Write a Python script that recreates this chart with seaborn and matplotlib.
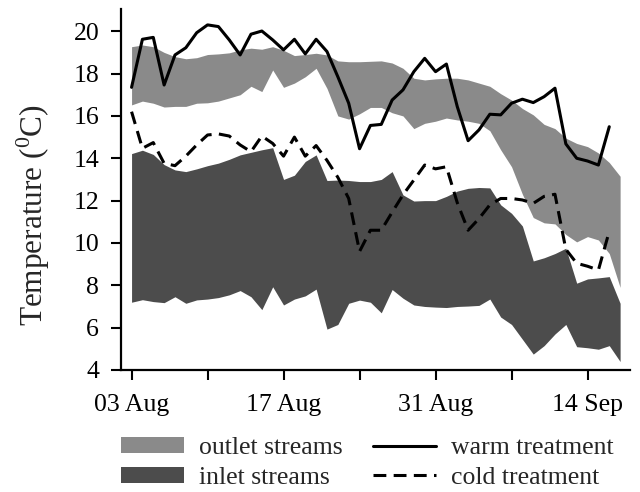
import numpy as np
import pandas as pd
import matplotlib
matplotlib.use("Agg")
import matplotlib.pyplot as plt
from matplotlib.patches import Patch
from matplotlib.lines import Line2D
import seaborn as sns

# ---------------- data ----------------
start_date = "2001-08-03"

outlet_upper = [19.27, 19.35, 19.27, 19.0, 18.8, 18.7, 18.75, 18.9, 18.93, 18.98,
                19.12, 19.2, 19.15, 19.27, 19.1, 18.85, 18.9, 18.96, 18.88, 18.6,
                18.56, 18.56, 18.58, 18.6, 18.5, 18.25, 17.78, 17.7, 17.75, 17.78,
                17.78, 17.7, 17.55, 17.4, 17.05, 16.75, 16.35, 16.05, 15.6, 15.4,
                14.95, 14.7, 14.55, 14.25, 13.8, 13.15]
outlet_lower = [16.52, 16.7, 16.6, 16.42, 16.45, 16.45, 16.6, 16.62, 16.7, 16.85,
                17.0, 17.4, 17.15, 18.17, 17.35, 17.55, 17.85, 18.25, 17.3, 16.0,
                15.85, 16.1, 16.4, 16.4, 16.15, 16.0, 15.4, 15.65, 15.75, 15.9,
                15.81, 15.75, 15.65, 15.3, 14.4, 13.6, 12.3, 11.2, 10.95, 10.9,
                10.4, 10.05, 10.3, 10.14, 9.5, 7.9]
inlet_upper = [14.22, 14.38, 14.18, 13.7, 13.45, 13.37, 13.5, 13.65, 13.77, 13.95,
               14.16, 14.28, 14.4, 14.5, 13.0, 13.2, 13.85, 14.16, 12.95, 12.97,
               12.95, 12.9, 12.9, 13.0, 13.37, 12.27, 11.98, 12.0, 12.0, 12.2,
               12.45, 12.58, 12.62, 12.6, 11.8, 11.4, 10.8, 9.15, 9.3, 9.5,
               9.75, 8.1, 8.3, 8.35, 8.41, 7.15]
inlet_lower = [7.2, 7.32, 7.23, 7.18, 7.46, 7.15, 7.31, 7.35, 7.42, 7.55,
               7.75, 7.46, 6.85, 7.93, 7.07, 7.35, 7.5, 7.82, 5.93, 6.15,
               7.15, 7.3, 7.2, 6.7, 7.8, 7.39, 7.07, 7.0, 6.97, 6.95,
               7.0, 7.02, 7.05, 7.35, 6.5, 6.15, 5.45, 4.75, 5.15, 5.7,
               6.15, 5.1, 5.05, 4.98, 5.15, 4.4]
warm_treatment = [17.35, 19.62, 19.71, 17.46, 18.88, 19.22, 19.93, 20.30, 20.22, 19.59,
                  18.88, 19.86, 20.01, 19.59, 19.12, 19.62, 18.93, 19.62, 19.04, 17.85,
                  16.6, 14.45, 15.55, 15.6, 16.75, 17.23, 18.09, 18.72, 18.09, 18.45,
                  16.44, 14.83, 15.34, 16.08, 16.05, 16.6, 16.79, 16.63, 16.91, 17.31,
                  14.68, 14.0, 13.87, 13.68, 15.49]
cold_treatment = [16.2, 14.47, 14.74, 13.76, 13.65, 14.1, 14.63, 15.1, 15.15, 15.05,
                  14.63, 14.31, 15.05, 14.7, 14.1, 15.0, 14.1, 14.6, 13.9, 13.1,
                  12.1, 9.6, 10.6, 10.6, 11.45, 12.27, 12.97, 13.68, 13.5, 13.6,
                  11.9, 10.6, 11.15, 11.8, 12.1, 12.1, 12.03, 11.87, 12.2, 12.3,
                  9.7, 9.04, 8.9, 8.72, 10.55]

band_labels = ["outlet streams", "inlet streams"]
line_labels = ["warm treatment", "cold treatment"]
tick_labels = ["03 Aug", "", "17 Aug", "", "31 Aug", "", "14 Sep"]
y_ticks = [4, 6, 8, 10, 12, 14, 16, 18, 20]

# ---------------- styling ----------------
sns.set_style("ticks")
plt.rcParams["font.family"] = ["Liberation Serif", "DejaVu Serif"]
plt.rcParams["mathtext.fontset"] = "custom"
plt.rcParams["mathtext.rm"] = "Liberation Serif"

outlet_color = "#8a8a8a"
inlet_color = "#4c4c4c"
lw = 2.2
cold_dash = (4.2, 2.4)
fs = 18.5

band_dates = pd.date_range(start_date, periods=len(outlet_upper), freq="D")
line_dates = pd.date_range(start_date, periods=len(warm_treatment), freq="D")

lines_df = pd.concat([
    pd.DataFrame({"date": line_dates, "temp": warm_treatment, "series": line_labels[0]}),
    pd.DataFrame({"date": line_dates, "temp": cold_treatment, "series": line_labels[1]}),
], ignore_index=True)

fig = plt.figure(figsize=(6.4, 4.92), dpi=100)
ax = fig.add_axes([0.1886, 0.248, 0.7956, 0.7337])

ax.fill_between(band_dates, outlet_lower, outlet_upper, color=outlet_color, lw=0, zorder=1)
ax.fill_between(band_dates, inlet_lower, inlet_upper, color=inlet_color, lw=0, zorder=1)

sns.lineplot(data=lines_df, x="date", y="temp", style="series",
             dashes={line_labels[0]: "", line_labels[1]: cold_dash},
             color="black", lw=lw, estimator=None, errorbar=None,
             legend=False, ax=ax, zorder=3)

start = pd.Timestamp(start_date)
ax.set_xlim(start - pd.Timedelta(days=1.0), start + pd.Timedelta(days=45.9))
ax.set_ylim(4, 21.05)
tick_dates = pd.date_range(start_date, periods=len(tick_labels), freq="7D")
ax.set_xticks(tick_dates)
ax.set_xticklabels(tick_labels)
ax.set_yticks(y_ticks)
ax.set_yticklabels([str(v) for v in y_ticks])

ax.set_xlabel("")
ax.set_ylabel(r"Temperature ($^{0}$C)", fontsize=22.5)
ax.yaxis.set_label_coords(-0.135, 0.43)

for s in ["top", "right"]:
    ax.spines[s].set_visible(False)
for s in ["left", "bottom"]:
    ax.spines[s].set_linewidth(1.6)
    ax.spines[s].set_color("black")

ax.tick_params(axis="both", direction="out", length=7.5, width=1.5,
               colors="black", labelsize=fs)
ax.tick_params(axis="x", pad=10)
ax.tick_params(axis="y", pad=8)

handles = [
    Patch(facecolor=outlet_color, edgecolor="none", label=band_labels[0]),
    Patch(facecolor=inlet_color, edgecolor="none", label=band_labels[1]),
    Line2D([], [], color="black", lw=lw, label=line_labels[0]),
    Line2D([], [], color="black", lw=lw, dashes=cold_dash, label=line_labels[1]),
]
fig.legend(handles=handles, ncol=2, loc="upper center",
           bbox_to_anchor=(0.574, 0.112), frameon=False, fontsize=fs,
           handlelength=2.45, handleheight=0.6, handletextpad=0.6,
           columnspacing=1.15, labelspacing=0.3, borderpad=0, borderaxespad=0)

fig.savefig("out.png", dpi=100)
